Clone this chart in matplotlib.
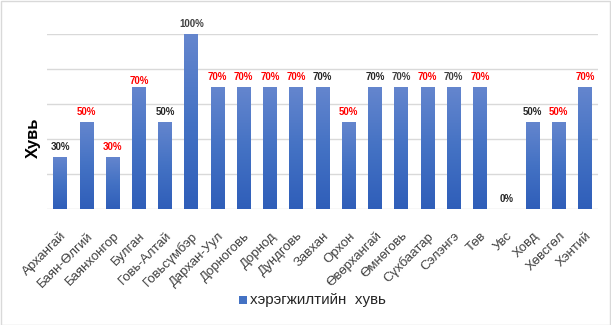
import matplotlib
matplotlib.use("Agg")
import matplotlib.pyplot as plt
import matplotlib.transforms as mtransforms
from matplotlib.colors import LinearSegmentedColormap
from matplotlib.patches import Rectangle
import numpy as np

# Data
aimags = ["Архангай", "Баян-Өлгий", "Баянхонгор", "Булган", "Говь-Алтай",
          "Говьсүмбэр", "Дархан-Уул", "Дорноговь", "Дорнод", "Дундговь",
          "Завхан", "Орхон", "Өвөрхангай", "Өмнөговь", "Сүхбаатар",
          "Сэлэнгэ", "Төв", "Увс", "Ховд", "Хөвсгөл", "Хэнтий"]
percent = [30, 50, 30, 70, 50, 100, 70, 70, 70, 70, 70, 50, 70, 70, 70, 70, 70, 0, 50, 50, 70]
# label colour per aimag: r = red highlight, d = dark, g = grey
label_tone = ["d", "r", "r", "r", "d", "g", "r", "r", "r", "r", "d", "r",
              "d", "g", "r", "g", "r", "d", "d", "r", "r"]
series_name = "хэрэгжилтийн  хувь"
y_title = "Хувь"

tone_colors = {"r": "#FF0000", "d": "#262626", "g": "#404040"}

W, H, DPI = 611, 325, 100
fig = plt.figure(figsize=(W / DPI, H / DPI), dpi=DPI)
fig.patch.set_facecolor("white")

# axes box in pixels
x0, x1 = 47, 598
y_top, y_base = 34.3, 209.3
ax = fig.add_axes([x0 / W, 1 - y_base / H, (x1 - x0) / W, (y_base - y_top) / H])

x = np.arange(len(aimags))

bars = ax.bar(x, percent, width=0.52, color="#4472C4", zorder=2)

# vertical gradient fill inside each bar
grad = LinearSegmentedColormap.from_list("bar_grad", ["#2F5EB9", "#4472C4", "#6586CE"])
gimg = np.linspace(0, 1, 256).reshape(-1, 1)
for b in bars:
    h = b.get_height()
    if h <= 0:
        continue
    bx = b.get_x()
    bw = b.get_width()
    im = ax.imshow(gimg, cmap=grad, origin="lower", aspect="auto",
                   extent=(bx, bx + bw, 0, h), zorder=3, interpolation="bilinear")
    im.set_clip_path(b)

ax.set_xlim(-0.5, len(aimags) - 0.5)
ax.set_ylim(0, 100)

# gridlines
ax.set_yticks(np.arange(0, 101, 20))
ax.yaxis.grid(True, color="#D9D9D9", linewidth=1.0, zorder=0)
ax.set_axisbelow(True)
ax.tick_params(axis="y", left=False, labelleft=False)
ax.tick_params(axis="x", bottom=False, pad=0)
for s in ax.spines.values():
    s.set_visible(False)

# value labels
label_font = ["Liberation Sans Narrow", "Liberation Sans", "DejaVu Sans"]
for i, (v, t) in enumerate(zip(percent, label_tone)):
    off = 4.3 if aimags[i] == "Булган" else 7.4
    ax.annotate(f"{v}%", (x[i], v), xytext=(0, off), textcoords="offset points",
                ha="center", va="center", fontsize=7.0, fontweight="bold",
                family=label_font, color=tone_colors[t], zorder=5)

# category labels
ax.set_xticks(x)
ax.set_xticklabels(aimags, rotation=45, ha="right", va="center",
                   rotation_mode="anchor", fontsize=9.5, color="#404040",
                   family=["Liberation Sans", "DejaVu Sans"])
shift = mtransforms.ScaledTranslation(4.5 / DPI, -20 / DPI, fig.dpi_scale_trans)
for lbl in ax.get_xticklabels():
    lbl.set_transform(lbl.get_transform() + shift)

# y-axis title
fig.text(33.5 / W, 1 - 137.5 / H, y_title, rotation=90, ha="center", va="center",
         fontsize=12, fontweight="bold", color="black",
         family=["Liberation Sans", "DejaVu Sans"])

# legend
fig.patches.append(Rectangle((239 / W, 1 - 304 / H), 8 / W, 8 / H,
                             transform=fig.transFigure, facecolor="#4472C4",
                             edgecolor="none", figure=fig))
fig.text(250.5 / W, 1 - 300 / H, series_name, ha="left", va="center",
         fontsize=10.9, color="#262626", family=["Liberation Sans", "DejaVu Sans"])

# chart border
fig.patches.append(Rectangle((0.5 / W, 0.5 / H), (W - 1.5) / W, (H - 1.5) / H,
                             transform=fig.transFigure, facecolor="none",
                             edgecolor="#D9D9D9", linewidth=1.0, figure=fig))

fig.savefig("out.png", dpi=DPI)
